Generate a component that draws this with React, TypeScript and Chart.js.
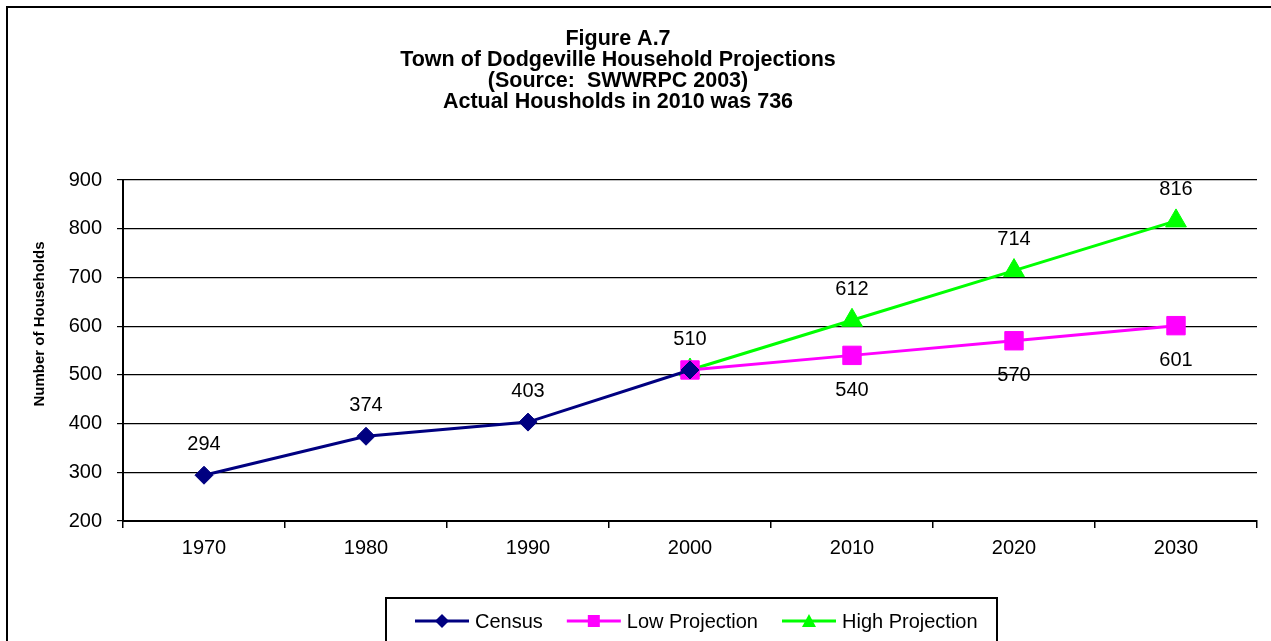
import { useEffect, useRef } from 'react';
import { Chart, registerables } from 'chart.js';

Chart.register(...registerables);

const years = ['1970', '1980', '1990', '2000', '2010', '2020', '2030'];
const census = [294, 374, 403, 510, null, null, null];
const lowProjection = [null, null, null, 510, 540, 570, 601];
const highProjection = [null, null, null, 510, 612, 714, 816];
const titleLines = [
  'Figure A.7',
  'Town of Dodgeville Household Projections',
  '(Source:  SWWRPC 2003)',
  'Actual Housholds in 2010 was 736',
];
const yTitle = 'Number of Households';
const yMin = 200;
const yMax = 900;
const yStep = 100;

const FONT = "'Liberation Sans', Arial, sans-serif";
const NAVY = '#000080';
const MAGENTA = '#FF00FF';
const GREEN = '#00FF00';

function drawMarker(ctx: CanvasRenderingContext2D, style: string, x: number, y: number, r: number, color: string) {
  ctx.save();
  ctx.fillStyle = color;
  ctx.beginPath();
  if (style === 'rectRot') {
    ctx.moveTo(x - r, y);
    ctx.lineTo(x, y - r);
    ctx.lineTo(x + r, y);
    ctx.lineTo(x, y + r);
  } else if (style === 'rect') {
    ctx.rect(x - r, y - r, 2 * r, 2 * r);
  } else {
    const h = r * 1.7;
    ctx.moveTo(x, y - h / 2 - 1);
    ctx.lineTo(x + r, y + h / 2);
    ctx.lineTo(x - r, y + h / 2);
  }
  ctx.closePath();
  ctx.fill();
  ctx.restore();
}

const decorPlugin = {
  id: 'decor',
  beforeDraw(chart: any) {
    const ctx: CanvasRenderingContext2D = chart.ctx;
    ctx.save();
    ctx.fillStyle = '#fff';
    ctx.fillRect(0, 0, chart.width, chart.height);
    ctx.strokeStyle = '#000';
    ctx.lineWidth = 2;
    ctx.strokeRect(7, 7, chart.width + 20, chart.height + 20);
    ctx.fillStyle = '#000';
    ctx.font = `bold 21.5px ${FONT}`;
    ctx.textAlign = 'center';
    ctx.textBaseline = 'middle';
    titleLines.forEach((t, i) => ctx.fillText(t, 618, 39 + i * 21));
    ctx.translate(40, 324);
    ctx.rotate(-Math.PI / 2);
    ctx.font = `bold 15px ${FONT}`;
    ctx.fillText(yTitle, 0, 0);
    ctx.restore();
  },
  afterDatasetsDraw(chart: any) {
    const ctx: CanvasRenderingContext2D = chart.ctx;
    ctx.save();
    ctx.fillStyle = '#000';
    ctx.font = `20px ${FONT}`;
    ctx.textAlign = 'center';
    ctx.textBaseline = 'middle';
    chart.data.datasets.forEach((ds: any, i: number) => {
      const meta = chart.getDatasetMeta(i);
      const firstIdx = ds.data.findIndex((v: any) => v != null);
      meta.data.forEach((pt: any, j: number) => {
        const v = ds.data[j];
        if (v == null) return;
        if (ds.skipFirstLabel && j === firstIdx) return;
        const y = ds.labelSide === 'below' ? pt.y + 35 : pt.y - 31;
        ctx.fillText(String(v), pt.x, y);
      });
    });
    ctx.restore();
  },
  afterDraw(chart: any) {
    const ctx: CanvasRenderingContext2D = chart.ctx;
    ctx.save();
    ctx.strokeStyle = '#000';
    ctx.lineWidth = 2;
    ctx.strokeRect(386, 598, 611, 80);
    ctx.font = `20px ${FONT}`;
    ctx.textBaseline = 'middle';
    ctx.textAlign = 'left';
    let x = 415;
    const y = 621;
    chart.data.datasets.forEach((ds: any) => {
      ctx.strokeStyle = ds.borderColor;
      ctx.lineWidth = 3;
      ctx.beginPath();
      ctx.moveTo(x, y);
      ctx.lineTo(x + 54, y);
      ctx.stroke();
      const mr = ds.pointStyle === 'rect' ? 6 : 7;
      drawMarker(ctx, ds.pointStyle, x + 27, y, mr, ds.borderColor);
      ctx.fillStyle = '#000';
      ctx.fillText(ds.label, x + 60, y + 1);
      x += 60 + ctx.measureText(ds.label).width + 24;
    });
    ctx.restore();
  },
};

export default function App() {
  const ref = useRef<HTMLCanvasElement>(null);
  useEffect(() => {
    if (!ref.current) return;
    const chart = new Chart(ref.current, {
      type: 'line',
      data: {
        labels: years,
        datasets: [
          {
            label: 'Census',
            data: census,
            borderColor: NAVY,
            backgroundColor: NAVY,
            borderWidth: 3,
            pointStyle: 'rectRot',
            pointRadius: 9,
            pointBorderWidth: 1,
            pointBackgroundColor: NAVY,
            pointBorderColor: NAVY,
            labelSide: 'above',
          } as any,
          {
            label: 'Low Projection',
            data: lowProjection,
            borderColor: MAGENTA,
            backgroundColor: MAGENTA,
            borderWidth: 3,
            pointStyle: 'rect',
            pointRadius: 13,
            pointBorderWidth: 1,
            pointBackgroundColor: MAGENTA,
            pointBorderColor: MAGENTA,
            labelSide: 'below',
            skipFirstLabel: true,
          } as any,
          {
            label: 'High Projection',
            data: highProjection,
            borderColor: GREEN,
            backgroundColor: GREEN,
            borderWidth: 3,
            pointStyle: 'triangle',
            pointRadius: 12,
            pointBorderWidth: 1,
            pointBackgroundColor: GREEN,
            pointBorderColor: GREEN,
            labelSide: 'above',
            skipFirstLabel: true,
          } as any,
        ],
      },
      options: {
        responsive: false,
        devicePixelRatio: 1,
        animation: false,
        layout: { padding: { top: 180, right: 13, bottom: 76, left: 0 } },
        plugins: {
          legend: { display: false },
          title: { display: false },
          tooltip: { enabled: false },
        },
        scales: {
          x: {
            type: 'category',
            offset: true,
            grid: { offset: true, drawOnChartArea: false, color: '#000', tickLength: 7, lineWidth: 1.5 },
            border: { color: '#000', width: 2 },
            ticks: { color: '#000', font: { family: FONT, size: 20 }, padding: 8, maxRotation: 0 },
            afterFit: (s: any) => { s.height = 44; },
          },
          y: {
            min: yMin,
            max: yMax,
            grid: { color: '#000', tickLength: 6, lineWidth: 1.2 },
            border: { color: '#000', width: 2 },
            ticks: { stepSize: yStep, color: '#000', font: { family: FONT, size: 20 }, padding: 15 },
            afterFit: (s: any) => { s.width = 123; },
          },
        },
      },
      plugins: [decorPlugin],
    });
    return () => chart.destroy();
  }, []);
  return (
    <div style={{ position: 'fixed', left: 0, top: 0, width: 1271, height: 641 }}>
      <canvas ref={ref} width={1271} height={641} style={{ display: 'block' }} />
    </div>
  );
}
